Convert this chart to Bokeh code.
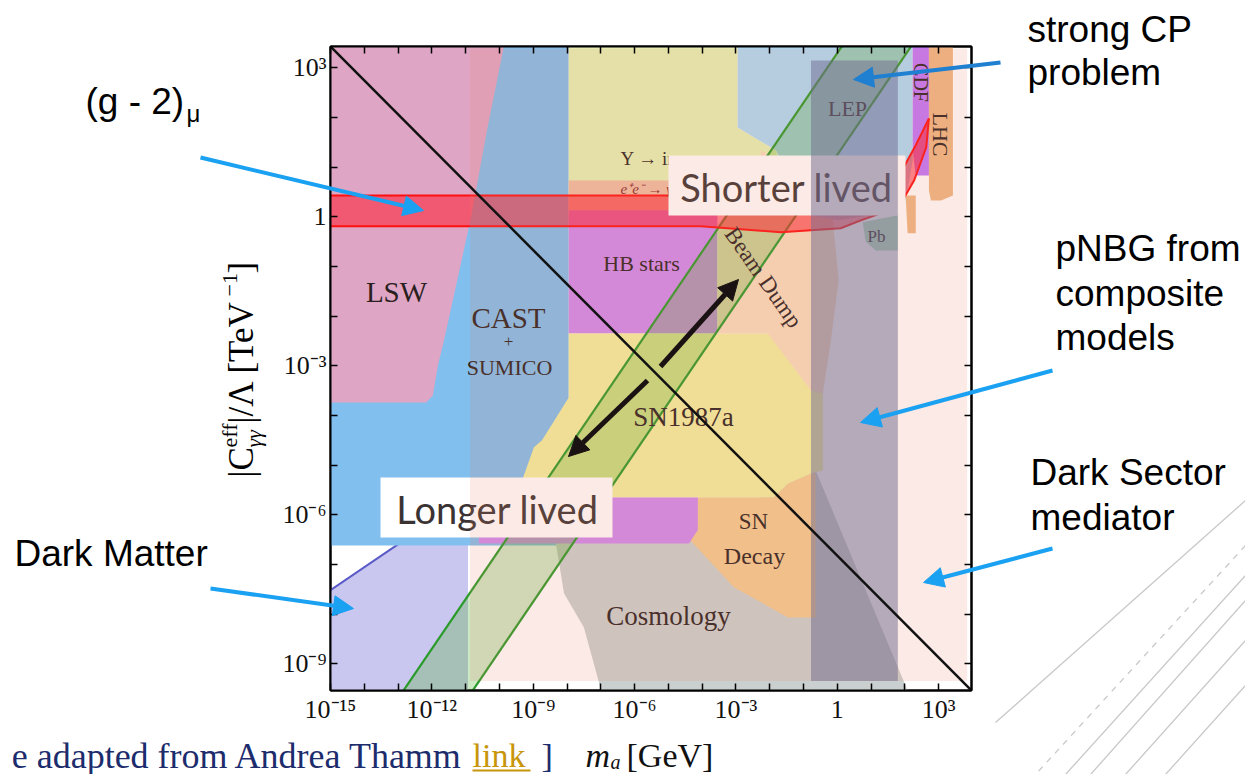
import math
from bokeh.plotting import figure
from bokeh.models import (FixedTicker, CustomJSTickFormatter, LogAxis, Arrow, NormalHead,
                          Range1d, GridBox)
from bokeh.core.properties import value
from bokeh.embed import file_html
from bokeh.resources import INLINE

# ---------------- data: log10(m_a / GeV), log10(|C|/Lambda / TeV^-1) ----------------
XMIN, XMAX = -15.0, 3.97
YMIN, YMAX = -9.54, 3.43

cast_lm = [-15, -7.95, -7.95, -15]
cast_lc = [3.43, 3.43, -6.62, -6.62]

lsw_lm = [-15, -9.87, -10.37, -10.84, -11.64, -11.82, -11.97, -12.17, -15]
lsw_lc = [3.43, 3.43, 1.74, -0.01, -2.49, -2.99, -3.60, -3.74, -3.74]

dm_lm = [-15, -12.47, -10.93, -10.93, -15]
dm_lc = [-7.52, -6.35, -5.71, -9.54, -9.54]
dm_edge_lm = [-15, -12.47]
dm_edge_lc = [-7.52, -6.35]

ups_lm = [-7.95, -2.95, -2.95, -1.82, -1.38, -7.95]
ups_lc = [3.43, 3.43, 1.80, 1.34, 0.03, 0.03]

ee_lm = [-7.95, -1.38, -1.38, -7.95]
ee_lc = [0.73, 0.73, 0.13, 0.13]

hb_lm = [-7.95, -3.55, -3.55, -7.95]
hb_lc = [0.13, 0.13, -2.35, -2.35]

cosmo_lm = [-8.33, -4.13, -0.78, -0.64, 2.08, -6.99, -7.50, -8.09]
cosmo_lc = [-6.58, -6.31, -5.11, -5.11, -9.54, -9.54, -8.27, -7.58]

sndecay_lm = [-4.13, -1.88, -1.46, -0.78, -0.64, -0.64, -1.46, -3.06, -4.54]
sndecay_lc = [-5.65, -5.65, -5.37, -5.17, -5.17, -8.07, -8.07, -7.46, -6.38]

hb2_lm = [-10.61, -4.13, -4.13, -4.39, -10.61]
hb2_lc = [-5.65, -5.65, -6.31, -6.58, -6.58]

sn87_lm = [-7.95, -0.43, -0.43, -0.78, -1.46, -1.88, -9.07, -9.30, -8.98, -8.74, -7.95]
sn87_lc = [-2.35, -2.35, -5.11, -5.17, -5.37, -5.65, -5.65, -5.25, -4.64, -4.50, -3.64]

bd_lm = [-2.27, -0.93, -0.19, 0.04, -0.19, -0.43, -0.78, -2.06, -3.55, -3.55, -2.95, -2.27]
bd_lc = [1.34, 0.83, 0.33, -1.28, -2.49, -3.56, -3.50, -2.35, -2.35, -0.17, 0.33, 0.93]

lep_lm = [-2.95, 2.23, 2.23, 2.02, 0.99, 0.04, -0.78, -1.82, -2.95]
lep_lc = [3.43, 3.43, 1.13, 0.33, 0.03, -0.07, 0.03, 1.34, 1.80]

cdf_lm = [2.23, 2.71, 2.71, 2.32, 2.23]
cdf_lc = [3.43, 3.43, 0.83, 0.83, 1.34]

lhc_lm = [2.71, 3.42, 3.42, 3.07, 2.77, 2.71]
lhc_lc = [3.43, 3.43, 0.43, 0.33, 0.33, 0.53]
lhc2_lm = [2.02, 2.32, 2.32, 2.08]
lhc2_lc = [0.43, 0.43, -0.33, -0.33]

pb_lm = [0.75, 1.79, 1.79, 1.14, 0.84]
pb_lc = [-0.11, 0.03, -0.68, -0.68, -0.50]

# (g-2)_mu band: upper and lower edges
g2_up_lm = [-15, 0.70, 1.43, 1.94, 2.32, 2.71]
g2_up_lc = [0.43, 0.43, 0.63, 0.97, 1.44, 1.98]
g2_lo_lm = [-15, -4.04, -1.67, 0.10, 0.70, 1.28, 1.88, 2.27, 2.63, 2.71]
g2_lo_lc = [-0.19, -0.19, -0.31, -0.23, -0.07, 0.07, 0.27, 0.73, 1.40, 1.98]

# decay-length lines (green)
life1_lm = [-12.9, 0.2]
life1_lc = [-9.6, 3.5]
life2_lm = [-10.85, 2.25]
life2_lc = [-9.6, 3.5]

# lifetime guide diagonal (black)
diag_lm = [-15, 3.97]
diag_lc = [3.43, -9.54]

# pNBG band and dark-sector overlay
pnbg_lm = [-0.78, 1.79]
pnbg_lc = [3.15, -9.35]
dsm_lm = [-10.87, 3.84]
dsm_lc = [3.39, -9.35]

# ---------------- layout ----------------
W, H = 1245, 774
FL, FT, FW, FH = 330.0, 46.0, 641.0, 644.0


def X(px):
    return 10 ** (XMIN + (px - FL) * (XMAX - XMIN) / FW)


def Y(py):
    return 10 ** (YMAX - (py - FT) * (YMAX - YMIN) / FH)


def E(vals):
    return [10 ** v for v in vals]


p = figure(width=W, height=H, x_axis_type="log", y_axis_type="log",
           x_range=Range1d(10 ** XMIN, 10 ** XMAX), y_range=Range1d(10 ** YMIN, 10 ** YMAX),
           output_backend="svg", toolbar_location=None, title=None,
           min_border_left=int(FL), min_border_right=int(W - FL - FW),
           min_border_top=int(FT), min_border_bottom=int(H - FT - FH))
p.frame_align = False
p.grid.visible = False
p.background_fill_color = "white"
p.border_fill_color = "white"
p.outline_line_color = "black"
p.outline_line_width = 2

fmt = CustomJSTickFormatter(code="""
const e = Math.round(Math.log10(tick));
if (e % 3 !== 0) return "";
if (e === 0) return "1";
const m = {"-":"\u207b","0":"\u2070","1":"\u00b9","2":"\u00b2","3":"\u00b3","4":"\u2074","5":"\u2075","6":"\u2076","7":"\u2077","8":"\u2078","9":"\u2079"};
return "10" + String(e).split("").map(c => m[c]).join("");
""")
xt = [10.0 ** k for k in range(-15, 4)]
yt = [10.0 ** k for k in range(-9, 4)]


def style_axis(ax, ticks, labels=True):
    ax.ticker = FixedTicker(ticks=ticks)
    ax.formatter = fmt
    ax.major_tick_in = 7
    ax.major_tick_out = 0
    ax.minor_tick_in = 0
    ax.minor_tick_out = 0
    ax.axis_line_width = 2
    ax.major_tick_line_width = 1.5
    ax.major_label_text_font = "Liberation Serif"
    ax.major_label_text_font_size = "26px"
    ax.major_label_text_color = "#111111"
    ax.major_label_standoff = 4
    if not labels:
        ax.major_label_text_alpha = 0


style_axis(p.xaxis[0], xt)
style_axis(p.yaxis[0], yt)
ta = LogAxis()
style_axis(ta, xt, labels=False)
p.add_layout(ta, "above")
ra = LogAxis()
style_axis(ra, yt, labels=False)
p.add_layout(ra, "right")


def region(lm, lc, color, **kw):
    p.patch(E(lm), E(lc), fill_color=color, line_color=None, **kw)


region(dm_lm, dm_lc, "#c9c7ef")
p.line(E(dm_edge_lm), E(dm_edge_lc), line_color="#5a5ac8", line_width=2)
region(cast_lm, cast_lc, "#80bfee")
region(lsw_lm, lsw_lc, "#dfa5c4")
region(ups_lm, ups_lc, "#e5f3b5")
region(ee_lm, ee_lc, "#eebea5")
region(hb_lm, hb_lc, "#d18bf0")
region(cosmo_lm, cosmo_lc, "#cad0cf")
region(sndecay_lm, sndecay_lc, "#f2cc92")
region(hb2_lm, hb2_lc, "#d18bf0")
region(sn87_lm, sn87_lc, "#f2f1a0")
region(bd_lm, bd_lc, "#f8dec0")
region(lep_lm, lep_lc, "#abdcf8")
region(cdf_lm, cdf_lc, "#c278fa")
region(lhc_lm, lhc_lc, "#f0b986")
region(lhc2_lm, lhc2_lc, "#f0b986")
region(pb_lm, pb_lc, "#b0e0c0")

p.patch(E(life1_lm + life2_lm[::-1]), E(life1_lc + life2_lc[::-1]),
        fill_color="#4caf2a", fill_alpha=0.28, line_color=None)
p.line(E(life1_lm), E(life1_lc), line_color="#2a9a2a", line_width=2.2)
p.line(E(life2_lm), E(life2_lc), line_color="#2a9a2a", line_width=2.2)

p.patch(E(g2_up_lm + g2_lo_lm[::-1]), E(g2_up_lc + g2_lo_lc[::-1]),
        fill_color="#ff1a2e", fill_alpha=0.55, line_color=None)
p.line(E(g2_up_lm), E(g2_up_lc), line_color="#ff1010", line_width=2)
p.line(E(g2_lo_lm), E(g2_lo_lc), line_color="#ff1010", line_width=2)

SERIF = value("Liberation Serif")


def t(px, py, s, size, angle=0.0, align="center", color="#2a2020", style="normal"):
    p.text(x=[X(px)], y=[Y(py)], text=[s], text_font=SERIF, text_font_size=value(f"{size}px"),
           text_align=align, text_baseline="middle", angle=angle, text_color=color,
           text_font_style=style)


t(396, 291, "LSW", 29)
t(508, 317, "CAST", 29)
t(508, 341, "+", 17)
t(509, 367, "SUMICO", 22)
t(641, 263, "HB stars", 22)
t(620, 158, "\u03a5 \u2192 inv", 19, align="left")
t(620, 188, "e\u207ae\u207b \u2192 \u03b3\u03b3", 15, align="left", color="#8a2a2a", style="italic")
t(847, 108, "LEP", 22)
t(920, 82, "CDF", 20, angle=-math.pi / 2)
t(940, 134, "LHC", 22, angle=-math.pi / 2)
t(876, 236, "Pb", 17)
t(763, 277, "Beam Dump", 23, angle=-0.96)
t(683, 416, "SN1987a", 27)
t(753, 521, "SN", 23)
t(754, 555, "Decay", 24)
t(668, 615, "Cosmology", 27)

for (l, tp, r, b, s, cx, cy) in [(668, 155, 905, 215, "Shorter lived", 786, 186),
                                  (380, 477, 612, 537, "Longer lived", 497, 508)]:
    p.quad(left=[X(l)], right=[X(r)], top=[Y(tp)], bottom=[Y(b)], fill_color="white", line_color=None)
    p.text(x=[X(cx)], y=[Y(cy)], text=[s], text_font=value("Lato"), text_font_size=value("38px"),
           text_align="center", text_baseline="middle", text_color="#3b3333")

p.quad(left=[10 ** pnbg_lm[0]], right=[10 ** pnbg_lm[1]], top=[10 ** pnbg_lc[0]], bottom=[10 ** pnbg_lc[1]],
       fill_color="#576598", fill_alpha=0.5, line_color=None)
p.quad(left=[10 ** dsm_lm[0]], right=[10 ** dsm_lm[1]], top=[10 ** dsm_lc[0]], bottom=[10 ** dsm_lc[1]],
       fill_color="#e88564", fill_alpha=0.17, line_color=None)

p.line(E(diag_lm), E(diag_lc), line_color="#111111", line_width=2.5)

# ---------------- transparent overlay figure in page pixels (slide annotations) ----------------
o = figure(width=W, height=H, x_range=Range1d(0, W), y_range=Range1d(H, 0),
           output_backend="svg", toolbar_location=None, title=None,
           x_axis_location=None, y_axis_location=None,
           min_border_left=0, min_border_right=0, min_border_top=0, min_border_bottom=0)
o.frame_align = False
o.grid.visible = False
o.outline_line_color = None
o.background_fill_alpha = 0
o.border_fill_alpha = 0


def lab(px, py, s, size, font="Liberation Sans", color="black", align="left", angle=0.0, style="normal"):
    o.text(x=[px], y=[py], text=[s], text_font=value(font), text_font_size=value(f"{size}px"),
           text_color=color, text_align=align, text_baseline="middle", angle=angle,
           text_font_style=style)


def arrow(x0, y0, x1, y1, color, width, head=20, dash="solid"):
    end = NormalHead(size=head, fill_color=color, line_color=color) if head else None
    o.add_layout(Arrow(x_start=x0, y_start=y0, x_end=x1, y_end=y1, line_color=color,
                       line_width=width, end=end, line_dash=dash))


arrow(647, 380, 568, 456, "#1a1212", 5)
arrow(660, 366, 738, 279, "#1a1212", 5)

lab(85, 101, "(g - 2)", 37)
lab(186, 113, "\u03bc", 24)
lab(1027, 29, "strong CP", 37)
lab(1027, 72, "problem", 37)
lab(1055, 248, "pNBG from", 37)
lab(1055, 293, "composite", 37)
lab(1055, 337, "models", 37)
lab(1030, 472, "Dark Sector", 37)
lab(1030, 517, "mediator", 37)
lab(14, 553, "Dark Matter", 37)

BLUE = "#1ba1f2"
arrow(200, 157, 423, 210, BLUE, 4)
arrow(1000, 62, 853, 79, "#1f7fd0", 4)
arrow(1052, 370, 860, 422, BLUE, 4)
arrow(1052, 548, 923, 582, BLUE, 4)
arrow(210, 588, 353, 608, BLUE, 4)

# y-axis title
lab(241, 477, "|C", 35, font="Liberation Serif", angle=math.pi / 2)
lab(229, 447, "eff", 22, font="Liberation Serif", angle=math.pi / 2)
lab(253, 447, "\u03b3\u03b3", 22, font="Liberation Serif", angle=math.pi / 2, style="italic")
lab(241, 423, "|/\u039b [TeV", 35, font="Liberation Serif", angle=math.pi / 2)
lab(229, 296, "\u22121", 22, font="Liberation Serif", angle=math.pi / 2)
lab(241, 273, "]", 35, font="Liberation Serif", angle=math.pi / 2)

# caption and x-axis title
NAVY = "#1c2c6c"
lab(463, 755, "e adapted from Andrea Thamm", 36, font="Liberation Serif", color=NAVY, align="right")
lab(472, 755, "link", 34, font="Liberation Serif", color="#c8960a")
arrow(472, 770, 530, 770, "#c8960a", 2, head=0)
lab(541, 755, "]", 34, font="Liberation Serif", color=NAVY)
lab(585, 755, "m", 34, font="Liberation Serif", color="#111111", style="italic")
lab(610, 761, "a", 20, font="Liberation Serif", color="#111111", style="italic")
lab(626, 755, "[GeV]", 34, font="Liberation Serif", color="#111111")

for (x0, y0, x1, y1, d) in [(1245, 500, 995, 722, "solid"), (1245, 545, 1035, 774, "dashed"),
                            (1245, 575, 1065, 774, "solid"), (1245, 600, 1090, 774, "solid"),
                            (1245, 640, 1125, 774, "solid"), (1245, 685, 1165, 774, "solid")]:
    arrow(x0, y0, x1, y1, "#c8c8c8", 1.3, head=0, dash=d)

layout = GridBox(children=[(p, 0, 0), (o, 0, 0)])
open("out.html", "w").write(file_html(layout, INLINE))
